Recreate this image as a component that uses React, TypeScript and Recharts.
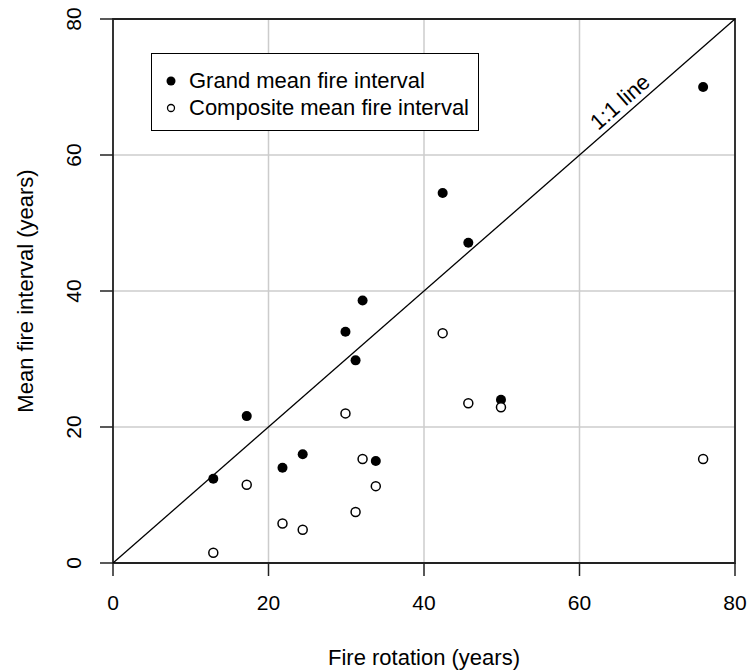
import {
  ScatterChart,
  Scatter,
  XAxis,
  YAxis,
  CartesianGrid,
  ReferenceLine,
  ReferenceArea,
  ReferenceDot,
} from "recharts";

const fireRotation = [12.9, 17.2, 21.8, 24.4, 29.9, 31.2, 32.1, 33.8, 42.4, 45.7, 49.9, 75.9];
const grandMean = [12.4, 21.6, 14.0, 16.0, 34.0, 29.8, 38.6, 15.0, 54.4, 47.1, 24.0, 70.0];
const compositeMean = [1.5, 11.5, 5.8, 4.9, 22.0, 7.5, 15.3, 11.3, 33.8, 23.5, 22.9, 15.3];
const axisTicks = [0, 20, 40, 60, 80];

const grandData = fireRotation.map((x, i) => ({ x, y: grandMean[i] }));
const compositeData = fireRotation.map((x, i) => ({ x, y: compositeMean[i] }));

const FONT = "'Liberation Sans', Arial, sans-serif";

function XTick(props: any) {
  const { x, y, payload } = props;
  return (
    <text x={x} y={y + 24} textAnchor="middle" dominantBaseline="central" fontSize={21} fontFamily={FONT} fill="#000">
      {payload.value}
    </text>
  );
}

function YTick(props: any) {
  const { x, y, payload } = props;
  const tx = x - 25;
  return (
    <text
      x={tx}
      y={y}
      transform={`rotate(-90, ${tx}, ${y})`}
      textAnchor="middle"
      dominantBaseline="central"
      fontSize={21}
      fontFamily={FONT}
      fill="#000"
    >
      {payload.value}
    </text>
  );
}

const filledDot = (p: any) => <circle cx={p.cx} cy={p.cy} r={5} fill="#000" />;
const openDot = (p: any) => <circle cx={p.cx} cy={p.cy} r={4.5} fill="#fff" stroke="#000" strokeWidth={1.5} />;

export default function App() {
  return (
    <div style={{ position: "absolute", left: 0, top: 0, width: 749, height: 671, background: "#fff" }}>
      <ScatterChart width={749} height={671} margin={{ top: 19, right: 14, left: 0, bottom: 0 }}>
        <CartesianGrid stroke="#cccccc" strokeWidth={1.5} />
        <XAxis
          type="number"
          dataKey="x"
          domain={[0, 80]}
          ticks={axisTicks}
          height={108}
          tickSize={13}
          axisLine={false}
          tickLine={{ stroke: "#222", strokeWidth: 1.5 }}
          tick={<XTick />}
          label={(lp: any) => {
            const vb = lp.viewBox;
            return (
              <text x={vb.x + vb.width / 2} y={657} textAnchor="middle" dominantBaseline="central" fontSize={22} fontFamily={FONT} fill="#000">
                Fire rotation (years)
              </text>
            );
          }}
        />
        <YAxis
          type="number"
          dataKey="y"
          domain={[0, 80]}
          ticks={axisTicks}
          width={113}
          tickSize={13}
          axisLine={false}
          tickLine={{ stroke: "#222", strokeWidth: 1.5 }}
          tick={<YTick />}
          label={(lp: any) => {
            const vb = lp.viewBox;
            const cx = 25;
            const cy = vb.y + vb.height / 2;
            return (
              <text x={cx} y={cy} transform={`rotate(-90, ${cx}, ${cy})`} textAnchor="middle" dominantBaseline="central" fontSize={22} fontFamily={FONT} fill="#000">
                Mean fire interval (years)
              </text>
            );
          }}
        />
        <ReferenceArea x1={0} x2={80} y1={0} y2={80} fill="none" stroke="#222" strokeWidth={1.8} ifOverflow="visible" />
        <ReferenceLine segment={[{ x: 0, y: 0 }, { x: 80, y: 80 }]} stroke="#000" strokeWidth={1.3} />
        <ReferenceDot
          x={65.2}
          y={67.8}
          r={0}
          ifOverflow="visible"
          shape={(p: any) => (
            <text
              x={p.cx}
              y={p.cy}
              transform={`rotate(-41.2, ${p.cx}, ${p.cy})`}
              textAnchor="middle"
              dominantBaseline="central"
              fontSize={22}
              fontFamily={FONT}
              fill="#000"
            >
              1:1 line
            </text>
          )}
        />
        <Scatter name="Grand mean fire interval" data={grandData} shape={filledDot} isAnimationActive={false} />
        <Scatter name="Composite mean fire interval" data={compositeData} shape={openDot} isAnimationActive={false} />
      </ScatterChart>
      <div
        style={{
          position: "absolute",
          left: 151,
          top: 53,
          width: 328,
          height: 78,
          boxSizing: "border-box",
          border: "1.5px solid #000",
          background: "#fff",
          fontFamily: FONT,
          fontSize: 22,
          color: "#000",
        }}
      >
        {[
          { label: "Grand mean fire interval", filled: true, top: 27 },
          { label: "Composite mean fire interval", filled: false, top: 54 },
        ].map((row) => (
          <div key={row.label} style={{ position: "absolute", left: 0, top: row.top - 13, height: 26, display: "flex", alignItems: "center" }}>
            <svg width={37} height={26} style={{ display: "block" }}>
              {row.filled ? (
                <circle cx={19} cy={13} r={4.5} fill="#000" />
              ) : (
                <circle cx={19} cy={13} r={3.5} fill="#fff" stroke="#000" strokeWidth={1.3} />
              )}
            </svg>
            <span style={{ whiteSpace: "nowrap", lineHeight: "26px" }}>{row.label}</span>
          </div>
        ))}
      </div>
    </div>
  );
}
